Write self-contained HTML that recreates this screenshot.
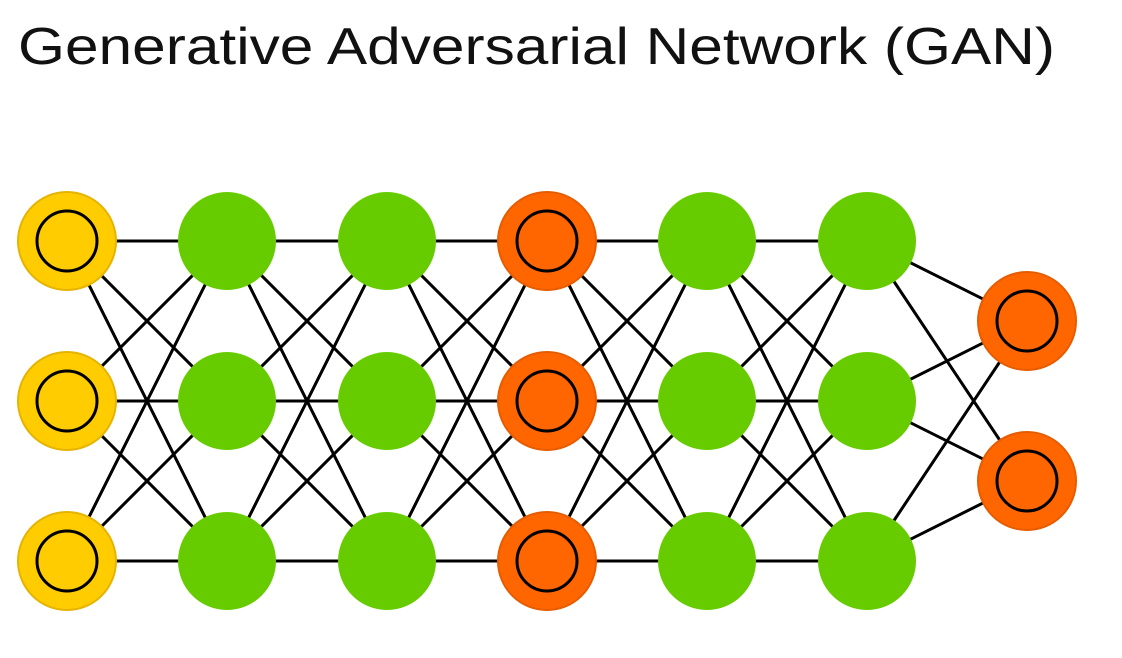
<!DOCTYPE html>
<html><head><meta charset="utf-8"><style>body{margin:0;background:#fff}svg{display:block}</style></head>
<body>
<svg width="1122" height="658" viewBox="0 0 1122 658" xmlns="http://www.w3.org/2000/svg">
<text x="18" y="64" font-family="Liberation Sans, sans-serif" font-size="52" fill="#111" textLength="1037" lengthAdjust="spacingAndGlyphs">Generative Adversarial Network (GAN)</text>
<g id="lines" stroke="#000" stroke-width="3"></g>
<g id="nodes"></g>
<script>
var xs=[67,227,387,547,707,867],ys=[241,401,561],out=[321,481];
var L=document.getElementById('lines'),N=document.getElementById('nodes'),ns='http://www.w3.org/2000/svg';
function ln(a,b,c,d){var e=document.createElementNS(ns,'line');e.setAttribute('x1',a);e.setAttribute('y1',b);e.setAttribute('x2',c);e.setAttribute('y2',d);L.appendChild(e);}
for(var i=0;i<5;i++)for(var a=0;a<3;a++)for(var b=0;b<3;b++)ln(xs[i],ys[a],xs[i+1],ys[b]);
for(var a=0;a<3;a++)for(var b=0;b<2;b++)ln(867,ys[a],1027,out[b]);
function nd(x,y,f,s,inner){var c=document.createElementNS(ns,'circle');c.setAttribute('cx',x);c.setAttribute('cy',y);c.setAttribute('r',49);c.setAttribute('fill',f);if(s){c.setAttribute('stroke',s);c.setAttribute('stroke-width',2);}N.appendChild(c);
if(inner){var d=document.createElementNS(ns,'circle');d.setAttribute('cx',x);d.setAttribute('cy',y);d.setAttribute('r',30);d.setAttribute('fill','none');d.setAttribute('stroke','#000');d.setAttribute('stroke-width',3);N.appendChild(d);}}
var cols=[['#ffcc00','#e6b400',1],['#66cc00',0,0],['#66cc00',0,0],['#ff6600','#e65c00',1],['#66cc00',0,0],['#66cc00',0,0]];
for(var i=0;i<6;i++)for(var a=0;a<3;a++)nd(xs[i],ys[a],cols[i][0],cols[i][1],cols[i][2]);
for(var b=0;b<2;b++)nd(1027,out[b],'#ff6600','#e65c00',1);
</script>
</svg>
</body></html>
